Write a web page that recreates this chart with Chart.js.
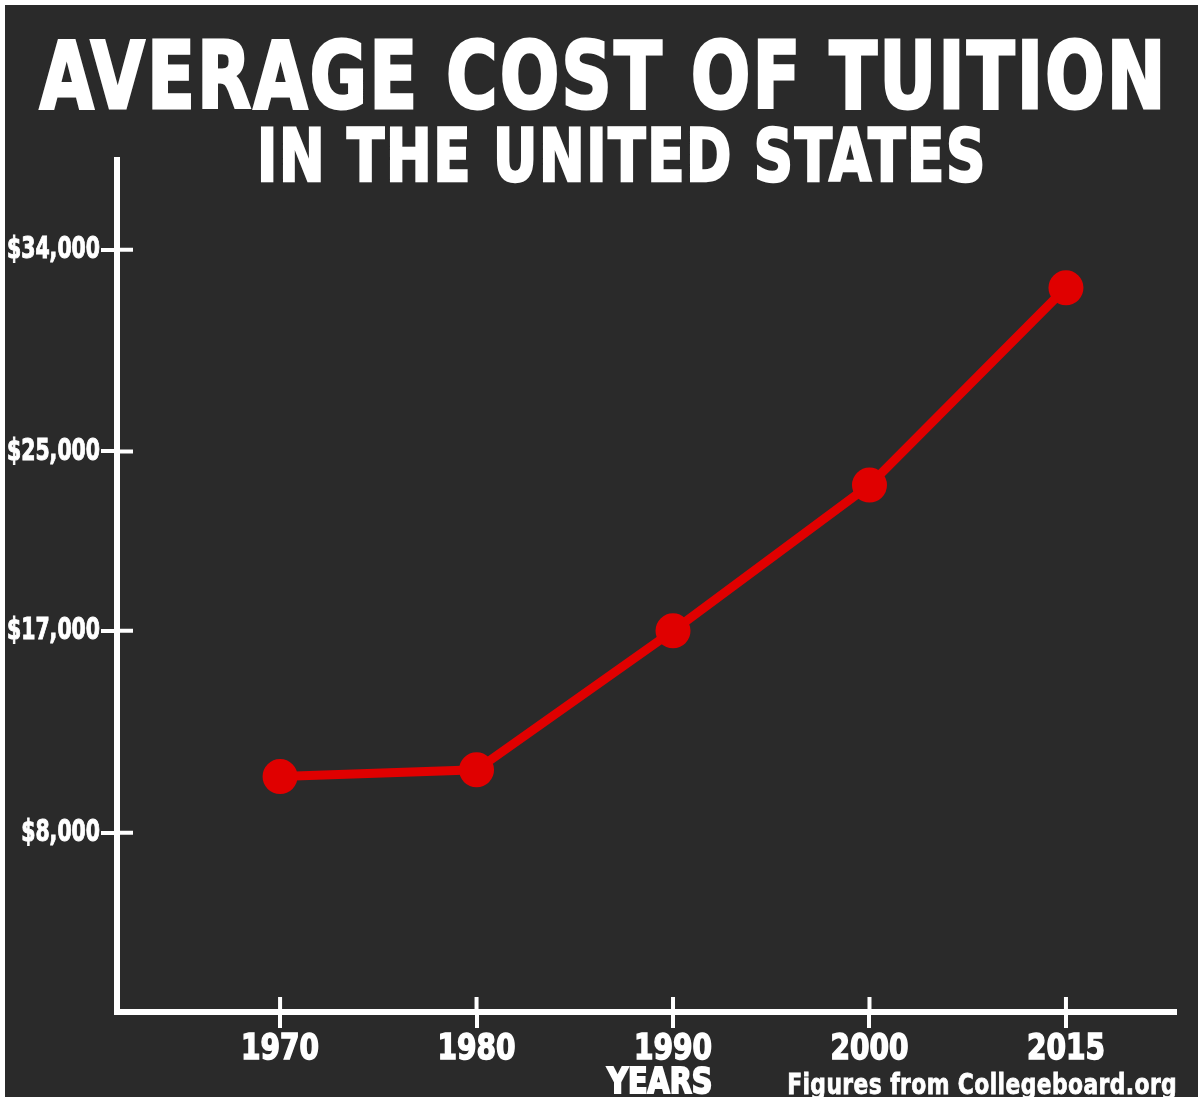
<!DOCTYPE html>
<html>
<head>
<meta charset="utf-8">
<script src="https://cdn.jsdelivr.net/npm/chart.js@4.4.1/dist/chart.umd.min.js"></script>
<style>
  html, body { margin: 0; padding: 0; background: #fff; }
  #wrap { position: relative; width: 1198px; height: 1102px; overflow: hidden; }
  #panel { position: absolute; left: 5px; top: 5px; width: 1193px; height: 1092px; background: #2a2a2a; }
  #chart { position: absolute; left: 0; top: 0; }
  .txt { position: absolute; color: #fff; font-weight: bold; line-height: 1; white-space: nowrap;
         transform-origin: center top; -webkit-text-stroke: 2px #fff; paint-order: stroke fill; }
  #title { -webkit-text-stroke: 3px #fff; letter-spacing: 3px; }
  #subtitle { -webkit-text-stroke: 2.5px #fff; letter-spacing: 2px; }
  #source { -webkit-text-stroke: 0.8px #fff; letter-spacing: 0.5px; }
</style>
</head>
<body>
<div id="wrap">
  <div id="panel"></div>
  <canvas id="chart" width="1198" height="1102"></canvas>
  <span class="txt" id="title">AVERAGE COST OF TUITION</span>
  <span class="txt" id="subtitle">IN THE UNITED STATES</span>
  <span class="txt" id="xtitle">YEARS</span>
  <span class="txt" id="source">Figures from Collegeboard.org</span>
</div>
<script>
const years = ['1970', '1980', '1990', '2000', '2015'];
const tuition = [10500, 10800, 17000, 23500, 32300];
const yTicks = [8000, 17000, 25000, 34000];

// pick the narrowest heavy font that is actually installed
function hasFont(name) {
  const c = document.createElement('canvas').getContext('2d');
  const s = 'AVERAGE $34,000 1970';
  return ['monospace', 'serif'].some(base => {
    c.font = `bold 40px ${base}`;
    const w0 = c.measureText(s).width;
    c.font = `bold 40px "${name}", ${base}`;
    return c.measureText(s).width !== w0;
  });
}
const family = ['Liberation Sans Narrow', 'DejaVu Sans Condensed', 'Roboto Condensed', 'Liberation Sans', 'DejaVu Sans']
  .find(hasFont) || 'sans-serif';

function textWidth(s, size) {
  const c = document.createElement('canvas').getContext('2d');
  c.font = `bold ${size}px "${family}"`;
  return c.measureText(s).width;
}

function place(id, size, baseline, centerX, width) {
  const el = document.getElementById(id);
  el.style.fontFamily = `"${family}", sans-serif`;
  el.style.fontSize = size + 'px';
  el.style.top = (baseline - 0.846 * size) + 'px';
  const w = el.getBoundingClientRect().width;
  el.style.left = (centerX - w / 2) + 'px';
  el.style.transform = `scaleX(${width / w})`;
}
place('title', 92, 109, 604, 1128);
place('subtitle', 73, 181, 622, 730);
place('xtitle', 35, 1094, 660, 105);
place('source', 29, 1095, 982, 390);

// tick labels: tall and narrow like the original poster type
const ySize = 31, xSize = 36;
const yShrink = 93 / textWidth('$34,000', ySize);
const xShrink = 78 / textWidth('1970', xSize);

const narrowText = {
  id: 'narrowText',
  beforeDraw(chart) {
    const ctx = chart.ctx;
    const fill = ctx.fillText, stroke = ctx.strokeText;
    const squeeze = (fn) => function (t, x, y, mw) {
      const k = String(t).startsWith('$') ? yShrink : xShrink;
      const w = this.measureText(t).width * k;
      return fn.call(this, t, x, y, mw !== undefined ? Math.min(mw, w) : w);
    };
    ctx.fillText = squeeze(fill);
    ctx.strokeText = squeeze(stroke);
    chart.$restoreText = () => { ctx.fillText = fill; ctx.strokeText = stroke; };
  },
  afterDraw(chart) {
    if (chart.$restoreText) chart.$restoreText();
  }
};

const crossTicks = {
  id: 'crossTicks',
  beforeDatasetsDraw(chart) {
    const {ctx, chartArea, scales: {x, y}} = chart;
    ctx.save();
    ctx.strokeStyle = '#fff';
    ctx.lineWidth = 4;
    ctx.beginPath();
    y.ticks.forEach(t => {
      const py = y.getPixelForValue(t.value);
      ctx.moveTo(chartArea.left, py);
      ctx.lineTo(chartArea.left + 16, py);
    });
    x.ticks.forEach(t => {
      const px = x.getPixelForValue(t.value);
      ctx.moveTo(px, chartArea.bottom);
      ctx.lineTo(px, chartArea.bottom - 15);
    });
    ctx.stroke();
    ctx.restore();
  }
};

new Chart(document.getElementById('chart').getContext('2d'), {
  type: 'line',
  data: {
    datasets: [{
      data: tuition.map((v, i) => ({x: i, y: v})),
      borderColor: '#e00000',
      backgroundColor: '#e00000',
      borderWidth: 9,
      pointRadius: 13,
      pointHoverRadius: 13,
      tension: 0
    }]
  },
  options: {
    responsive: false,
    animation: false,
    layout: { padding: { top: 160, right: 23, left: 0, bottom: 0 } },
    plugins: { legend: { display: false }, tooltip: { enabled: false } },
    scales: {
      x: {
        type: 'linear',
        min: -0.83,
        max: 4.555,
        afterFit(s) { s.height = 90; },
        afterBuildTicks(s) { s.ticks = years.map((_, i) => ({value: i})); },
        border: { display: true, color: '#fff', width: 6 },
        grid: { display: true, drawOnChartArea: false, drawTicks: true, tickLength: 16, color: '#fff', lineWidth: 4 },
        ticks: {
          color: '#fff',
          textStrokeColor: '#fff',
          textStrokeWidth: 1.5,
          padding: 0,
          maxRotation: 0,
          autoSkip: false,
          font: { family: family, size: xSize, weight: 'bold' },
          callback: v => years[v]
        }
      },
      y: {
        min: 0,
        max: 38000,
        afterFit(s) { s.width = 117; },
        afterBuildTicks(s) { s.ticks = yTicks.map(v => ({value: v})); },
        border: { display: true, color: '#fff', width: 6 },
        grid: { display: true, drawOnChartArea: false, drawTicks: true, tickLength: 16, color: '#fff', lineWidth: 4 },
        ticks: {
          color: '#fff',
          textStrokeColor: '#fff',
          textStrokeWidth: 1,
          padding: 1,
          autoSkip: false,
          font: { family: family, size: ySize, weight: 'bold' },
          callback: v => '$' + v.toLocaleString('en-US')
        }
      }
    }
  },
  plugins: [narrowText, crossTicks]
});
</script>
</body>
</html>
